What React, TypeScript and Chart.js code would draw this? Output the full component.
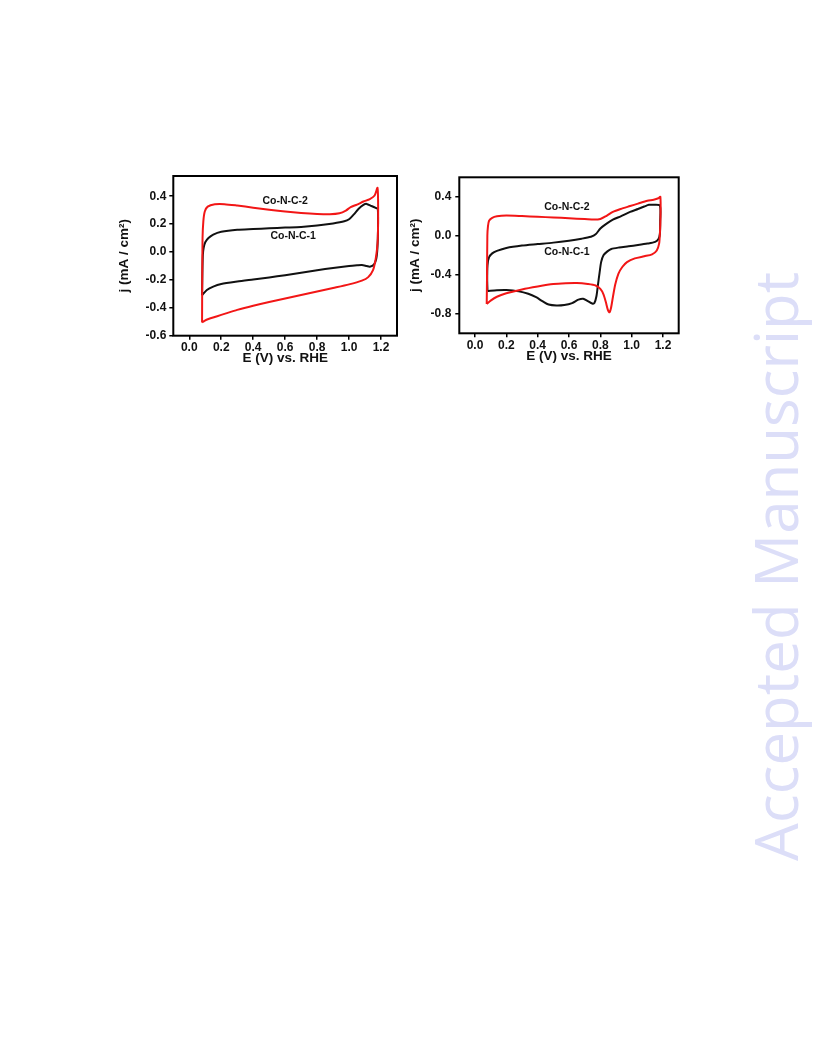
import React, { useEffect, useRef } from "react";
import { Chart, registerables } from "chart.js";

Chart.register(...registerables);

// ---------- data ----------
const X_TICKS = [0, 0.2, 0.4, 0.6, 0.8, 1.0, 1.2];
const LEFT_Y_TICKS = [-0.6, -0.4, -0.2, 0, 0.2, 0.4];
const RIGHT_Y_TICKS = [-0.8, -0.4, 0, 0.4];
const SERIES_NAMES = ["Co-N-C-2", "Co-N-C-1"];
const X_TITLE = "E (V) vs. RHE";
const Y_TITLE = "j (mA / cm²)";
const WATERMARK = "Accepted Manuscript";

// Left panel, Co-N-C-2 (red)
const LEFT_RED_E = [
  0.08, 0.081, 0.083, 0.088, 0.097, 0.115, 0.16, 0.22, 0.3, 0.4, 0.5, 0.6, 0.7, 0.8, 0.88,
  0.94, 0.98, 1.01, 1.05, 1.09, 1.13, 1.16, 1.178, 1.182, 1.18, 1.175, 1.165, 1.15, 1.12,
  1.08, 1.0, 0.9, 0.8, 0.7, 0.6, 0.5, 0.4, 0.3, 0.23, 0.17, 0.12, 0.095, 0.08,
];
const LEFT_RED_J = [
  -0.505, -0.2, 0.1, 0.22, 0.29, 0.325, 0.342, 0.343, 0.333, 0.318, 0.303, 0.29, 0.28, 0.273, 0.271,
  0.278, 0.297, 0.322, 0.34, 0.362, 0.38, 0.405, 0.46, 0.3, 0.1, 0.02, -0.06, -0.13, -0.18,
  -0.205, -0.232, -0.258, -0.283, -0.308, -0.333, -0.358, -0.385, -0.415, -0.44, -0.462, -0.48, -0.493, -0.505,
];

// Left panel, Co-N-C-1 (black)
const LEFT_BLACK_E = [
  0.08, 0.082, 0.085, 0.09, 0.1, 0.12, 0.15, 0.2, 0.3, 0.4, 0.5, 0.6, 0.7, 0.8, 0.9,
  0.97, 1.0, 1.03, 1.06, 1.09, 1.11, 1.14, 1.17, 1.18, 1.181, 1.177, 1.17, 1.155, 1.13,
  1.11, 1.08, 1.05, 1.0, 0.9, 0.8, 0.7, 0.6, 0.5, 0.4, 0.3, 0.2, 0.15, 0.11, 0.08,
];
const LEFT_BLACK_J = [
  -0.31, -0.15, -0.02, 0.03, 0.07, 0.1, 0.125, 0.145, 0.16, 0.165, 0.17, 0.175, 0.18, 0.19, 0.205,
  0.22, 0.235, 0.27, 0.31, 0.338, 0.345, 0.33, 0.315, 0.31, 0.15, 0.02, -0.05, -0.09, -0.105,
  -0.1, -0.093, -0.095, -0.1, -0.114, -0.13, -0.148, -0.166, -0.182, -0.197, -0.212, -0.23, -0.248, -0.272, -0.31,
];

// Right panel, Co-N-C-2 (red)
const RIGHT_RED_E = [
  0.075, 0.077, 0.079, 0.083, 0.09, 0.11, 0.14, 0.2, 0.3, 0.4, 0.5, 0.6, 0.7, 0.76, 0.8,
  0.84, 0.88, 0.93, 0.99, 1.04, 1.1, 1.14, 1.17, 1.183, 1.184, 1.18, 1.175, 1.16, 1.13,
  1.08, 1.02, 0.97, 0.94, 0.915, 0.895, 0.88, 0.868, 0.858, 0.848, 0.835, 0.82, 0.8, 0.77,
  0.72, 0.65, 0.58, 0.5, 0.4, 0.3, 0.2, 0.14, 0.1, 0.075,
];
const RIGHT_RED_J = [
  -0.7, -0.4, 0.0, 0.1, 0.155, 0.185, 0.2, 0.207, 0.202, 0.195, 0.188, 0.18, 0.172, 0.166, 0.172,
  0.205, 0.245, 0.275, 0.305, 0.33, 0.36, 0.37, 0.385, 0.4, 0.2, 0.02, -0.08, -0.15, -0.19,
  -0.21, -0.232, -0.27, -0.32, -0.39, -0.5, -0.63, -0.74, -0.785, -0.76, -0.68, -0.6, -0.545, -0.51,
  -0.495, -0.485, -0.487, -0.495, -0.52, -0.55, -0.59, -0.625, -0.665, -0.7,
];

// Right panel, Co-N-C-1 (black)
const RIGHT_BLACK_E = [
  0.08, 0.078, 0.08, 0.09, 0.11, 0.14, 0.2, 0.3, 0.4, 0.5, 0.6, 0.68, 0.74, 0.77, 0.8,
  0.84, 0.88, 0.93, 0.99, 1.04, 1.08, 1.11, 1.14, 1.18, 1.182, 1.18, 1.17, 1.15, 1.1,
  1.04, 0.98, 0.92, 0.87, 0.845, 0.82, 0.805, 0.795, 0.785, 0.775, 0.762, 0.748, 0.72, 0.69,
  0.66, 0.62, 0.57, 0.52, 0.47, 0.43, 0.39, 0.34, 0.28, 0.2, 0.14, 0.08,
];
const RIGHT_BLACK_J = [
  -0.565, -0.45, -0.3, -0.22, -0.18, -0.155, -0.125, -0.1, -0.085, -0.07, -0.05, -0.03, -0.01, 0.015, 0.075,
  0.125, 0.165, 0.2, 0.245, 0.275, 0.3, 0.318, 0.318, 0.31, 0.15, 0.02, -0.035, -0.062, -0.08,
  -0.095, -0.108, -0.12, -0.135, -0.16, -0.2, -0.27, -0.38, -0.5, -0.62, -0.69, -0.695, -0.67, -0.645,
  -0.655, -0.69, -0.71, -0.715, -0.705, -0.67, -0.63, -0.595, -0.57, -0.556, -0.558, -0.565,
];

// ---------- helpers ----------
const FONT_FAMILY = '"Liberation Sans", Arial, sans-serif';
const RED = "#f21616";
const BLACK = "#111111";

const zip = (xs: number[], ys: number[]) => xs.map((x, i) => ({ x, y: ys[i] }));

const framePlugin = {
  id: "frame",
  afterDatasetsDraw(chart: any) {
    const { ctx, chartArea } = chart;
    ctx.save();
    ctx.strokeStyle = "#000";
    ctx.lineWidth = 2;
    ctx.strokeRect(chartArea.left, chartArea.top, chartArea.right - chartArea.left, chartArea.bottom - chartArea.top);
    ctx.restore();
  },
};

const seriesLabelPlugin = {
  id: "seriesLabels",
  afterDatasetsDraw(chart: any, _args: any, opts: any) {
    const { ctx, scales } = chart;
    ctx.save();
    ctx.font = `bold ${opts.size}px ${FONT_FAMILY}`;
    ctx.fillStyle = "#111";
    ctx.textAlign = "center";
    ctx.textBaseline = "middle";
    (opts.items || []).forEach((it: any) => {
      ctx.fillText(it.text, scales.x.getPixelForValue(it.x), scales.y.getPixelForValue(it.y));
    });
    ctx.restore();
  },
};

type PanelProps = {
  left: number;
  top: number;
  width: number;
  height: number;
  yMin: number;
  yMax: number;
  yTicks: number[];
  red: { x: number; y: number }[];
  black: { x: number; y: number }[];
  yAxisWidth: number;
  xAxisHeight: number;
  padTop: number;
  padRight: number;
  yTickPad: number;
  yTitlePad: number;
  xTitlePad: number;
  labels: { text: string; x: number; y: number }[];
};

function Panel(p: PanelProps) {
  const ref = useRef<HTMLCanvasElement | null>(null);
  useEffect(() => {
    if (!ref.current) return;
    const tickFont = { family: FONT_FAMILY, size: 12, weight: "bold" as const };
    const titleFont = { family: FONT_FAMILY, size: 13.5, weight: "bold" as const };
    const chart = new Chart(ref.current, {
      type: "line",
      data: {
        datasets: [
          {
            label: SERIES_NAMES[0],
            data: p.red,
            borderColor: RED,
            borderWidth: 2,
            pointRadius: 0,
            tension: 0.25,
            fill: false,
          },
          {
            label: SERIES_NAMES[1],
            data: p.black,
            borderColor: BLACK,
            borderWidth: 2,
            pointRadius: 0,
            tension: 0.25,
            fill: false,
          },
        ],
      },
      options: {
        animation: false,
        responsive: false,
        maintainAspectRatio: false,
        events: [],
        layout: { padding: { top: p.padTop, right: p.padRight, left: 0, bottom: 0 } },
        plugins: {
          legend: { display: false },
          tooltip: { enabled: false },
          seriesLabels: { size: 10.5, items: p.labels },
        } as any,
        scales: {
          x: {
            type: "linear",
            min: -0.1,
            max: 1.3,
            afterBuildTicks: (s: any) => {
              s.ticks = X_TICKS.map((v) => ({ value: v }));
            },
            afterFit: (s: any) => {
              s.height = p.xAxisHeight;
            },
            ticks: {
              callback: (v: any) => Number(v).toFixed(1),
              font: tickFont,
              color: "#111",
              padding: 1,
              maxRotation: 0,
              autoSkip: false,
            },
            grid: {
              display: true,
              drawOnChartArea: false,
              drawTicks: true,
              tickLength: 4,
              color: "#000",
              lineWidth: 1.5,
            },
            border: { display: false },
            title: {
              display: true,
              text: X_TITLE,
              font: titleFont,
              color: "#111",
              padding: { top: 0, bottom: p.xTitlePad },
            },
          },
          y: {
            type: "linear",
            min: p.yMin,
            max: p.yMax,
            afterBuildTicks: (s: any) => {
              s.ticks = p.yTicks.map((v) => ({ value: v }));
            },
            afterFit: (s: any) => {
              s.width = p.yAxisWidth;
            },
            ticks: {
              callback: (v: any) => Number(v).toFixed(1),
              font: tickFont,
              color: "#111",
              padding: p.yTickPad,
              autoSkip: false,
            },
            grid: {
              display: true,
              drawOnChartArea: false,
              drawTicks: true,
              tickLength: 4,
              color: "#000",
              lineWidth: 1.5,
            },
            border: { display: false },
            title: {
              display: true,
              text: Y_TITLE,
              font: titleFont,
              color: "#111",
              padding: { top: p.yTitlePad, bottom: 0 },
            },
          },
        },
      },
      plugins: [framePlugin, seriesLabelPlugin],
    } as any);
    return () => chart.destroy();
  }, []);
  return (
    <div style={{ position: "absolute", left: p.left, top: p.top, width: p.width, height: p.height }}>
      <canvas ref={ref} width={p.width} height={p.height} style={{ width: p.width, height: p.height, display: "block" }} />
    </div>
  );
}

export default function App() {
  return (
    <div style={{ position: "absolute", left: 0, top: 0, width: 816, height: 1056, background: "#fff", overflow: "hidden" }}>
      <Panel
        left={100}
        top={165}
        width={310}
        height={210}
        yMin={-0.6}
        yMax={0.545}
        yTicks={LEFT_Y_TICKS}
        red={zip(LEFT_RED_E, LEFT_RED_J)}
        black={zip(LEFT_BLACK_E, LEFT_BLACK_J)}
        yAxisWidth={73.3}
        xAxisHeight={39.3}
        padTop={11}
        padRight={13}
        yTickPad={3}
        yTitlePad={16}
        xTitlePad={9}
        labels={[
          { text: SERIES_NAMES[0], x: 0.6, y: 0.364 },
          { text: SERIES_NAMES[1], x: 0.65, y: 0.113 },
        ]}
      />
      <Panel
        left={390}
        top={165}
        width={300}
        height={210}
        yMin={-1.0}
        yMax={0.6}
        yTicks={RIGHT_Y_TICKS}
        red={zip(RIGHT_RED_E, RIGHT_RED_J)}
        black={zip(RIGHT_BLACK_E, RIGHT_BLACK_J)}
        yAxisWidth={69.3}
        xAxisHeight={41.7}
        padTop={12.3}
        padRight={11.3}
        yTickPad={4}
        yTitlePad={17}
        xTitlePad={11}
        labels={[
          { text: SERIES_NAMES[0], x: 0.587, y: 0.295 },
          { text: SERIES_NAMES[1], x: 0.587, y: -0.166 },
        ]}
      />
      <div
        style={{
          position: "absolute",
          left: 745,
          top: 861,
          transformOrigin: "0 0",
          transform: "rotate(-90deg)",
          fontFamily: '"Open Sans", sans-serif',
          fontSize: 60,
          lineHeight: "60px",
          color: "rgb(220, 222, 248)",
          whiteSpace: "nowrap",
        }}
      >
        {WATERMARK}
      </div>
    </div>
  );
}
